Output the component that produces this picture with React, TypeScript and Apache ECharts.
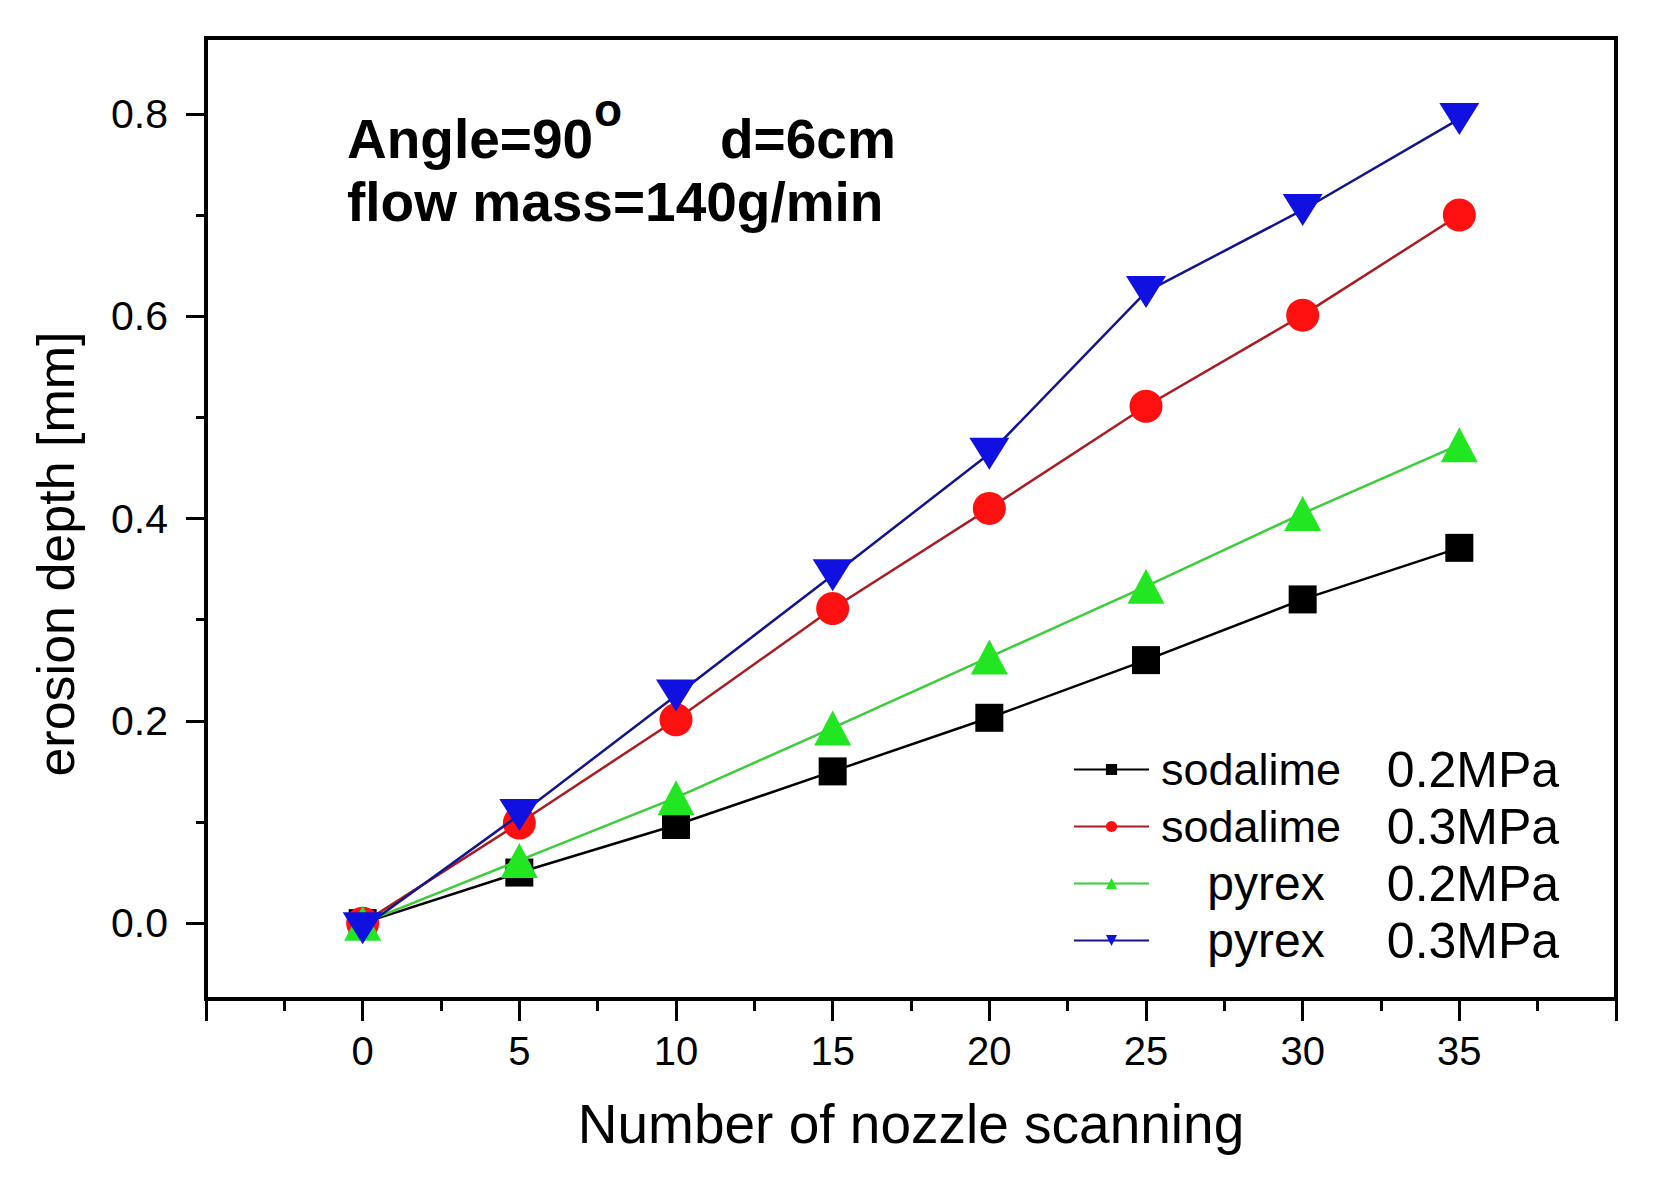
import React, { useEffect, useRef } from "react";
import * as echarts from "echarts";

const xValues = [0, 5, 10, 15, 20, 25, 30, 35];
const sodalime02 = [0, 0.05, 0.097, 0.15, 0.203, 0.26, 0.32, 0.371];
const sodalime03 = [0, 0.099, 0.201, 0.311, 0.41, 0.511, 0.601, 0.7];
const pyrex02 = [0, 0.062, 0.124, 0.193, 0.263, 0.333, 0.405, 0.473];
const pyrex03 = [-0.005, 0.107, 0.225, 0.344, 0.464, 0.624, 0.705, 0.795];

const materials = ["sodalime", "sodalime", "pyrex", "pyrex"];
const pressures = ["0.2MPa", "0.3MPa", "0.2MPa", "0.3MPa"];
const yMajorTicks = [0, 0.2, 0.4, 0.6, 0.8];
const yMinorTicks = [0.1, 0.3, 0.5, 0.7];

const FONT = "'Liberation Sans', Arial, sans-serif";

export default function App() {
  const ref = useRef<HTMLDivElement>(null);

  useEffect(() => {
    if (!ref.current) return;
    const chart = echarts.init(ref.current, null, { renderer: "svg" });

    const seriesValues = [sodalime02, sodalime03, pyrex02, pyrex03];
    const markerColors = ["#000000", "#ff1010", "#22e622", "#1010e0"];
    const lineColors = ["#000000", "#a81c22", "#3ccc3c", "#14148c"];
    const symbols = ["rect", "circle", "triangle", "triangle"];
    const sizes: any[] = [28, 33, [37, 35], [40, 32]];
    const rotates = [0, 0, 0, 180];

    const series = seriesValues.map((vals, i) => ({
      type: "line",
      name: `${materials[i]} ${pressures[i]}`,
      data: xValues.map((x, j) => [x, vals[j]]),
      symbol: symbols[i],
      symbolSize: sizes[i],
      symbolRotate: rotates[i],
      showSymbol: true,
      itemStyle: { color: markerColors[i] },
      lineStyle: { color: lineColors[i], width: 2.5 },
      z: 2 + i,
    }));

    const axisText = { fontSize: 40, color: "#000", fontFamily: FONT };
    const legendText = { fontFamily: FONT, color: "#000", lineHeight: 57 };

    chart.setOption({
      animation: false,
      backgroundColor: "#ffffff",
      grid: {
        left: 206,
        right: 45,
        top: 38,
        bottom: 188,
        show: true,
        borderColor: "#000",
        borderWidth: 4,
        backgroundColor: "transparent",
      },
      legend: {
        orient: "vertical",
        left: 1073,
        top: 741,
        padding: 0,
        itemGap: 0,
        itemWidth: 75,
        itemHeight: 14,
        data: series.map((s) => s.name),
        formatter: (name: string) => {
          const idx = name.lastIndexOf(" ");
          const mat = name.slice(0, idx);
          const pr = name.slice(idx + 1);
          return mat === "pyrex" ? `{c|${mat}}{d|${pr}}` : `{a|${mat}}{b|${pr}}`;
        },
        textStyle: {
          ...legendText,
          fontSize: 46,
          rich: {
            a: { ...legendText, width: 194, align: "center", fontSize: 45 },
            b: { ...legendText, width: 250, align: "center", fontSize: 50 },
            c: { ...legendText, width: 224, align: "center", fontSize: 48 },
            d: { ...legendText, width: 190, align: "center", fontSize: 50 },
          },
        },
      },
      xAxis: {
        type: "value",
        min: -5,
        max: 40,
        interval: 5,
        name: "Number of nozzle scanning",
        nameLocation: "middle",
        nameGap: 97,
        nameTextStyle: { fontSize: 55, fontFamily: FONT, color: "#000" },
        axisLine: { show: true, onZero: false, lineStyle: { color: "#000", width: 4 } },
        axisTick: { show: true, inside: false, length: 22, lineStyle: { color: "#000", width: 3 } },
        minorTick: { show: true, splitNumber: 2, length: 12, lineStyle: { color: "#000", width: 3 } },
        axisLabel: {
          ...axisText,
          margin: 32,
          formatter: (v: number) => (v < 0 || v > 35 ? "" : String(v)),
        },
        splitLine: { show: false },
        minorSplitLine: { show: false },
      },
      yAxis: [
        {
          type: "value",
          min: -0.075,
          max: 0.875,
          position: "left",
          axisLine: { show: true, onZero: false, lineStyle: { color: "#000", width: 4 } },
          axisTick: {
            show: true,
            length: 20,
            customValues: yMajorTicks,
            lineStyle: { color: "#000", width: 3 },
          },
          axisLabel: {
            ...axisText,
            fontSize: 41,
            margin: 38,
            customValues: yMajorTicks,
            formatter: (v: number) => v.toFixed(1),
          },
          splitLine: { show: false },
        },
        {
          type: "value",
          min: -0.075,
          max: 0.875,
          position: "left",
          axisLine: { show: false, onZero: false },
          axisTick: {
            show: true,
            length: 10,
            customValues: yMinorTicks,
            lineStyle: { color: "#000", width: 3 },
          },
          axisLabel: { show: false },
          splitLine: { show: false },
        },
      ],
      graphic: [
        {
          type: "text",
          x: 56,
          y: 554,
          rotation: Math.PI / 2,
          style: {
            text: "erosion depth [mm]",
            fill: "#000",
            fontSize: 52,
            fontFamily: FONT,
            align: "center",
            verticalAlign: "middle",
          },
        },
        {
          type: "text",
          x: 347,
          y: 139,
          style: { text: "Angle=90", fill: "#000", fontSize: 55, fontWeight: "bold", fontFamily: FONT, verticalAlign: "middle" },
        },
        {
          type: "text",
          x: 594,
          y: 110,
          style: { text: "o", fill: "#000", fontSize: 46, fontWeight: "bold", fontFamily: FONT, verticalAlign: "middle" },
        },
        {
          type: "text",
          x: 720,
          y: 139,
          style: { text: "d=6cm", fill: "#000", fontSize: 55, fontWeight: "bold", fontFamily: FONT, verticalAlign: "middle" },
        },
        {
          type: "text",
          x: 347,
          y: 202,
          style: { text: "flow mass=140g/min", fill: "#000", fontSize: 55, fontWeight: "bold", fontFamily: FONT, verticalAlign: "middle" },
        },
      ],
      series,
    });

    return () => chart.dispose();
  }, []);

  return (
    <div
      ref={ref}
      style={{ position: "fixed", left: 0, top: 0, width: 1661, height: 1187, background: "#fff" }}
    />
  );
}
